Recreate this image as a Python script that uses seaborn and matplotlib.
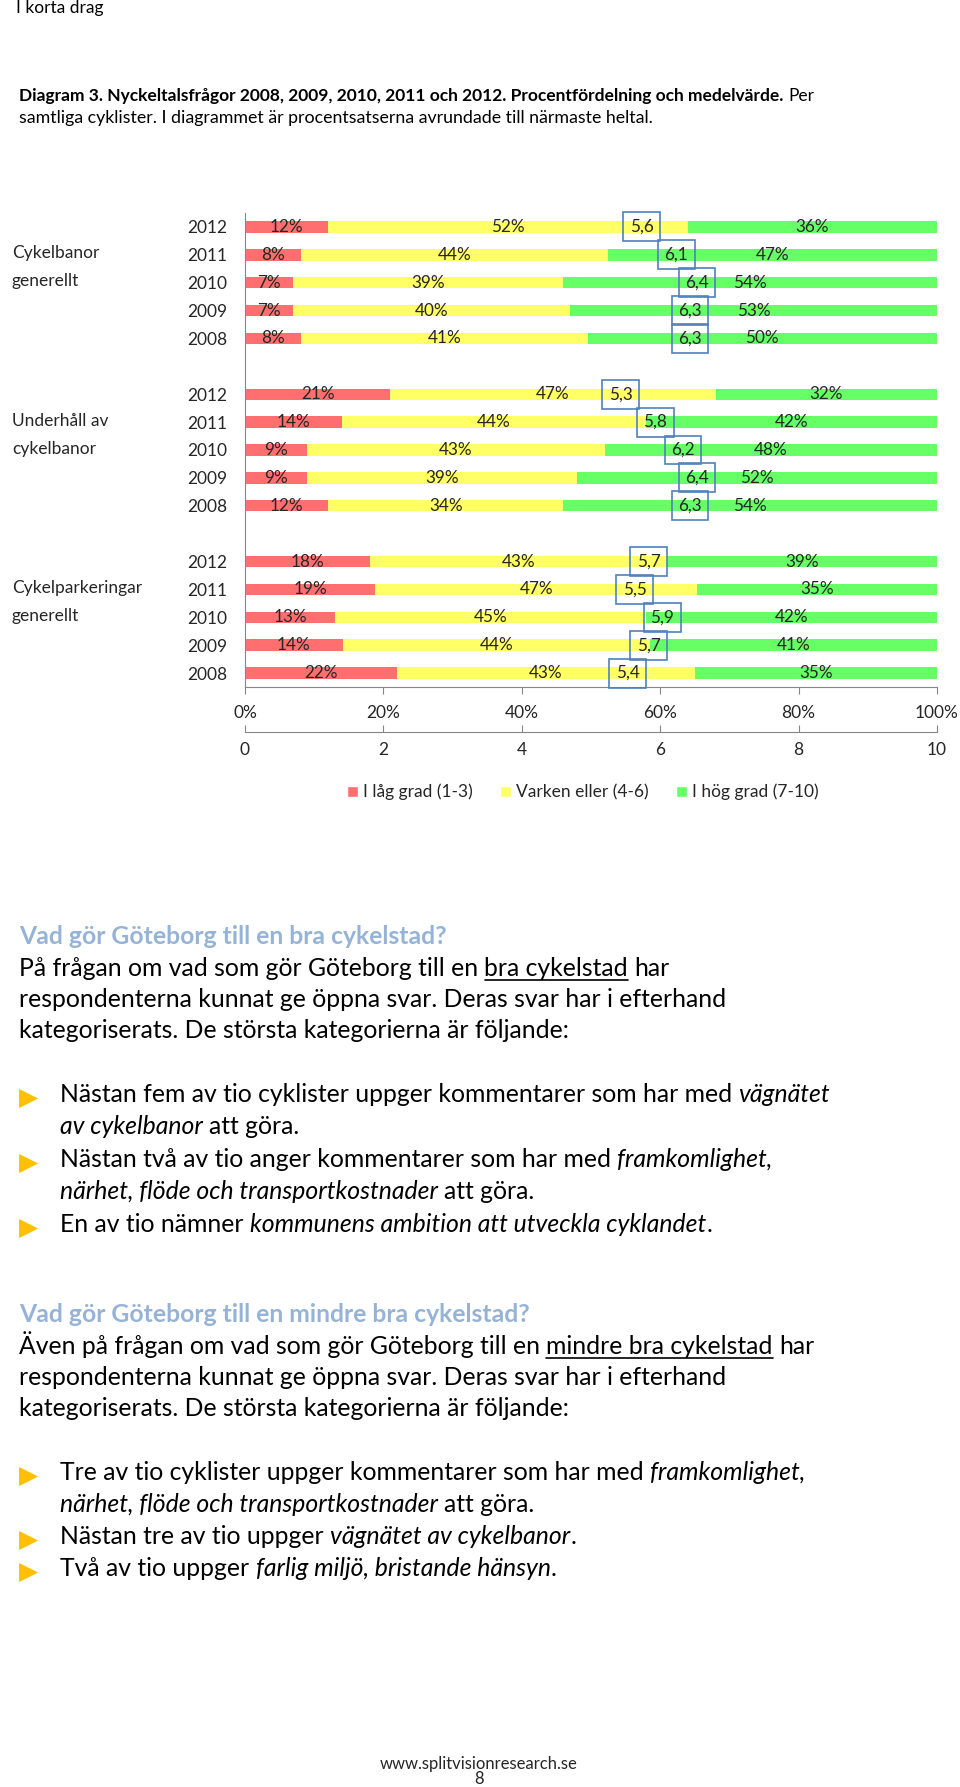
import numpy as np
import pandas as pd
import seaborn as sns
import matplotlib.pyplot as plt
from matplotlib.patches import Patch
from matplotlib.lines import Line2D
from matplotlib.transforms import blended_transform_factory

sns.set_style("white")
plt.rcParams['font.family'] = ['Lato', 'DejaVu Sans']

# data
groups = ["Cykelbanor\ngenerellt", "Underhåll av\ncykelbanor", "Cykelparkeringar\ngenerellt"]
years = ["2012", "2011", "2010", "2009", "2008"]
low = [12, 8, 7, 7, 8, 21, 14, 9, 9, 12, 18, 19, 13, 14, 22]
mid = [52, 44, 39, 40, 41, 47, 44, 43, 39, 34, 43, 47, 45, 44, 43]
high = [36, 47, 54, 53, 50, 32, 42, 48, 52, 54, 39, 35, 42, 41, 35]
means = [5.6, 6.1, 6.4, 6.3, 6.3, 5.3, 5.8, 6.2, 6.4, 6.3, 5.7, 5.5, 5.9, 5.7, 5.4]
legend_labels = ["I låg grad (1-3)", "Varken eller (4-6)", "I hög grad (7-10)"]
colors = ["#FF6F6F", "#FFFF66", "#66FF66"]
pct_ticks = [0, 20, 40, 60, 80, 100]
num_ticks = [0, 2, 4, 6, 8, 10]

W, H = 960, 1787
fig = plt.figure(figsize=(W / 100, H / 100), dpi=100)

# one slot per row, an empty slot between the groups (100% stacked like Excel)
df = pd.DataFrame({"low": low, "mid": mid, "high": high, "mean": means})
df["year"] = years * 3
df["pos"] = [i + i // 5 + 0.5 for i in range(len(df))]
tot = df[["low", "mid", "high"]].sum(axis=1)
df["c_low"] = df["low"] / tot * 100
df["c_mid"] = (df["low"] + df["mid"]) / tot * 100
df["c_high"] = 100.0

ax = fig.add_axes([245 / W, 1 - 687 / H, 692 / W, 474 / H])
for col, c in [("c_high", colors[2]), ("c_mid", colors[1]), ("c_low", colors[0])]:
    sns.barplot(data=df, x=col, y="pos", orient="y", native_scale=True, color=c,
                saturation=1, width=0.41, errorbar=None, linewidth=0, ax=ax)

# percentage labels centered in each segment
for _, r in df.iterrows():
    starts = [0, r["c_low"], r["c_mid"]]
    ends = [r["c_low"], r["c_mid"], 100]
    for s, e, v in zip(starts, ends, [r["low"], r["mid"], r["high"]]):
        ax.text((s + e) / 2, r["pos"], f"{int(v)}%", ha="center", va="center", fontsize=12.3)

ax.set_xlim(0, 100)
ax.set_ylim(17, 0)
ax.set_xlabel("")
ax.set_ylabel("")
ax.set_xticks(pct_ticks, [f"{t}%" for t in pct_ticks])
ax.set_yticks(range(18), [])
ax.set_yticks(df["pos"], df["year"], minor=True)
ax.tick_params(axis="y", which="major", length=5, color="#868686", direction="out")
ax.tick_params(axis="y", which="minor", length=0, pad=13, labelsize=12.5)
ax.tick_params(axis="x", length=5, color="#868686", direction="out", pad=8, labelsize=12.5)
for s in ["top", "right"]:
    ax.spines[s].set_visible(False)
for s in ["left", "bottom"]:
    ax.spines[s].set_color("#868686")

# group labels
gtrans = blended_transform_factory(fig.transFigure, ax.transData)
for g, name in enumerate(groups):
    l1, l2 = name.split("\n")
    ax.text(12 / W, g * 6 + 1.45, l1, transform=gtrans, ha="left", va="center", fontsize=12.5)
    ax.text(12 / W, g * 6 + 2.45, l2, transform=gtrans, ha="left", va="center", fontsize=12.5)

# secondary 0-10 axis for the averages
ax_num = ax.twiny()
ax_num.set_xlim(0, 10)
ax_num.xaxis.set_ticks_position("bottom")
ax_num.xaxis.set_label_position("bottom")
ax_num.spines["bottom"].set_position(("outward", 32.4))
for s in ["top", "right", "left"]:
    ax_num.spines[s].set_visible(False)
ax_num.spines["bottom"].set_color("#868686")
ax_num.set_xticks(num_ticks, [str(t) for t in num_ticks])
ax_num.tick_params(axis="x", direction="in", length=5, color="#868686", pad=7, labelsize=12.5)

mtrans = blended_transform_factory(ax_num.transData, ax.transData)
for _, r in df.iterrows():
    ax_num.annotate(f"{r['mean']:.1f}".replace(".", ","), (r["mean"], r["pos"]),
                    xycoords=mtrans, xytext=(6.5, 0), textcoords="offset points",
                    ha="center", va="center", fontsize=12.3,
                    bbox=dict(boxstyle="square,pad=0.38", fc="none", ec="#4F81BD", lw=1.2))

handles = [Patch(facecolor=c, label=l) for c, l in zip(colors, legend_labels)]
fig.legend(handles=handles, loc="center", bbox_to_anchor=(583 / W, 1 - 792 / H), ncol=3,
           frameon=False, fontsize=12.5, handlelength=0.6, handleheight=0.6,
           handletextpad=0.3, columnspacing=1.6)

# text on the page
renderer = fig.canvas.get_renderer()


def space_w(size, weight, style):
    a = fig.text(0, 0, "n n", fontsize=size, weight=weight, style=style, transform=None)
    b = fig.text(0, 0, "nn", fontsize=size, weight=weight, style=style, transform=None)
    w = a.get_window_extent(renderer).width - b.get_window_extent(renderer).width
    a.remove()
    b.remove()
    return w


def line(y, x0, parts, size=17.8, color="black", underline=None):
    # parts: (text, weight, style); y is the text center from the top in px
    x = x0
    base = H - y - size * 0.3
    for txt, weight, style in parts:
        sw = space_w(size, weight, style)
        if txt.startswith(" "):
            x += sw
        t = fig.text(x, base, txt.strip(), fontsize=size, weight=weight, style=style,
                     color=color, transform=None, va="baseline", ha="left")
        bb = t.get_window_extent(renderer)
        if underline is not None and txt.strip() == underline:
            fig.add_artist(Line2D([bb.x0, bb.x1], [base - 4, base - 4], color=color,
                                  lw=1.2, transform=None))
        x = bb.x1
        if txt.endswith(" "):
            x += sw


N, B, I = "normal", "bold", "italic"


def bullet(y):
    fig.text(19, H - y - 8, "▶", fontsize=18, color="#FFC000", family="DejaVu Sans",
             transform=None, va="baseline", ha="left")


line(9, 16, [("I korta drag", N, N)], size=12.5)
line(97, 19, [("Diagram 3. Nyckeltalsfrågor 2008, 2009, 2010, 2011 och 2012. Procentfördelning och medelvärde.", B, N),
              (" Per", N, N)], size=12.5)
line(119, 19, [("samtliga cyklister. I diagrammet är procentsatserna avrundade till närmaste heltal.", N, N)], size=12.8)

blue = "#95B3D7"
line(939, 19, [("Vad gör Göteborg till en bra cykelstad?", B, N)], color=blue)
line(971, 19, [("På frågan om vad som gör Göteborg till en ", N, N), ("bra cykelstad", N, N), (" har", N, N)],
     underline="bra cykelstad")
line(1002, 19, [("respondenterna kunnat ge öppna svar. Deras svar har i efterhand", N, N)])
line(1033, 19, [("kategoriserats. De största kategorierna är följande:", N, N)])

bullet(1097)
line(1097, 60, [("Nästan fem av tio cyklister uppger kommentarer som har med ", N, N), ("vägnätet", N, I)])
line(1129, 60, [("av cykelbanor", N, I), (" att göra.", N, N)])
bullet(1162)
line(1162, 60, [("Nästan två av tio anger kommentarer som har med ", N, N), ("framkomlighet,", N, I)])
line(1194, 60, [("närhet, flöde och transportkostnader", N, I), (" att göra.", N, N)])
bullet(1227)
line(1227, 60, [("En av tio nämner ", N, N), ("kommunens ambition att utveckla cyklandet", N, I), (".", N, N)])

line(1317, 19, [("Vad gör Göteborg till en mindre bra cykelstad?", B, N)], color=blue)
line(1349, 19, [("Även på frågan om vad som gör Göteborg till en ", N, N), ("mindre bra cykelstad", N, N), (" har", N, N)],
     underline="mindre bra cykelstad")
line(1380, 19, [("respondenterna kunnat ge öppna svar. Deras svar har i efterhand", N, N)])
line(1411, 19, [("kategoriserats. De största kategorierna är följande:", N, N)])

bullet(1475)
line(1475, 60, [("Tre av tio cyklister uppger kommentarer som har med ", N, N), ("framkomlighet,", N, I)])
line(1507, 60, [("närhet, flöde och transportkostnader", N, I), (" att göra.", N, N)])
bullet(1539)
line(1539, 60, [("Nästan tre av tio uppger ", N, N), ("vägnätet av cykelbanor", N, I), (".", N, N)])
bullet(1571)
line(1571, 60, [("Två av tio uppger ", N, N), ("farlig miljö, bristande hänsyn", N, I), (".", N, N)])

fig.text(479 / W, 1 - 1764 / H, "www.splitvisionresearch.se", ha="center", va="center", fontsize=12)
fig.text(479 / W, 1 - 1779 / H, "8", ha="center", va="center", fontsize=12)

fig.savefig("out.png", dpi=100)
